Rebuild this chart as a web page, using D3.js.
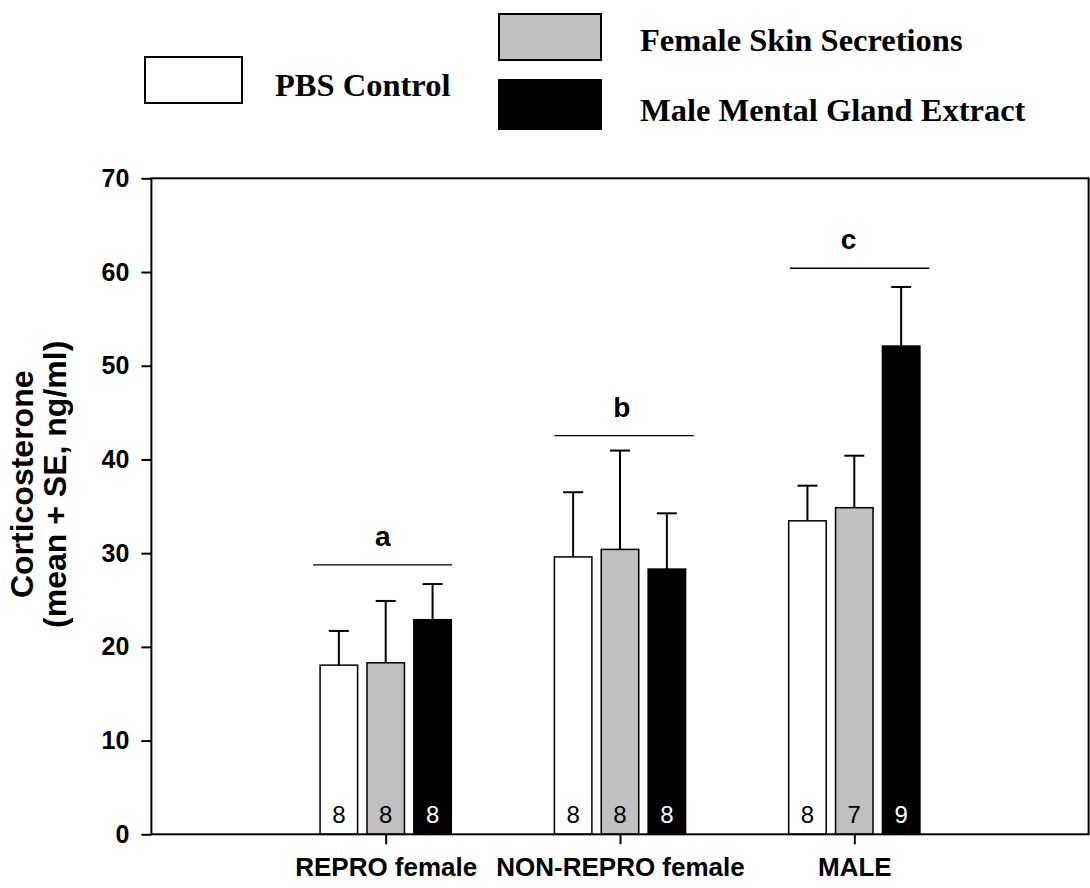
<!DOCTYPE html>
<html>
<head>
<meta charset="utf-8">
<script src="https://cdn.jsdelivr.net/npm/d3@7/dist/d3.min.js"></script>
<style>
  html, body { margin: 0; padding: 0; background: #fff; }
  svg { display: block; }
</style>
</head>
<body>
<svg id="chart" width="1090" height="888"></svg>
<script>
// Corticosterone response by group and treatment
const groups = ["REPRO female", "NON-REPRO female", "MALE"];
const treatments = ["PBS Control", "Female Skin Secretions", "Male Mental Gland Extract"];
const fills = ["#ffffff", "#c0c0c0", "#000000"];

// mean values per group, one array per treatment
const pbsMean    = [18.05, 29.6, 33.45];
const femaleMean = [18.3, 30.4, 34.85];
const maleMean   = [22.9, 28.3, 52.1];

// upper error bar ends (mean + SE)
const pbsUpper    = [21.7, 36.5, 37.2];
const femaleUpper = [24.9, 40.95, 40.4];
const maleUpper   = [26.7, 34.25, 58.4];

// sample sizes
const pbsN    = [8, 8, 8];
const femaleN = [8, 8, 7];
const maleN   = [8, 8, 9];

// significance groupings (bracket level, extent and letter position on the x axis)
const sigLetters = ["a", "b", "c"];
const sigLevel   = [28.75, 42.55, 60.4];
const sigStart   = [0.69, 1.72, 2.725];
const sigEnd     = [1.283, 2.315, 3.32];
const sigLabelX  = [0.988, 2.008, 2.975];

const yTicks = [0, 10, 20, 30, 40, 50, 60, 70];

const means  = [pbsMean, femaleMean, maleMean];
const uppers = [pbsUpper, femaleUpper, maleUpper];
const ns     = [pbsN, femaleN, maleN];

const svg = d3.select("#chart");

const x = d3.scaleLinear().domain([0, 4]).range([151.4, 1088.6]);
const y = d3.scaleLinear().domain([0, 70]).range([834.3, 178.3]);

const barOffset = 0.2;   // distance between bar centres, in group units
const barWidth = 0.16;   // bar width, in group units

const bars = [];
groups.forEach((g, gi) => {
  treatments.forEach((t, ti) => {
    bars.push({
      group: gi, treat: ti,
      cx: gi + 1 + (ti - 1) * barOffset,
      mean: means[ti][gi], upper: uppers[ti][gi], n: ns[ti][gi]
    });
  });
});

// error bars (upper only)
const capHalf = 10;
const eb = svg.append("g").attr("stroke", "#000").attr("stroke-width", 2);
eb.selectAll("line.stem").data(bars).join("line")
  .attr("x1", d => x(d.cx)).attr("x2", d => x(d.cx))
  .attr("y1", d => y(d.mean)).attr("y2", d => y(d.upper));
eb.selectAll("line.cap").data(bars).join("line")
  .attr("x1", d => x(d.cx) - capHalf).attr("x2", d => x(d.cx) + capHalf)
  .attr("y1", d => y(d.upper)).attr("y2", d => y(d.upper));

// bars
svg.append("g").selectAll("rect").data(bars).join("rect")
  .attr("x", d => x(d.cx - barWidth / 2))
  .attr("width", d => x(d.cx + barWidth / 2) - x(d.cx - barWidth / 2))
  .attr("y", d => y(d.mean))
  .attr("height", d => y(0) - y(d.mean))
  .attr("fill", d => fills[d.treat])
  .attr("stroke", "#000")
  .attr("stroke-width", 1.5);

// sample sizes inside bars
svg.append("g").selectAll("text").data(bars).join("text")
  .attr("x", d => x(d.cx))
  .attr("y", 823)
  .attr("text-anchor", "middle")
  .attr("font-family", "Arial, 'Liberation Sans', sans-serif")
  .attr("font-size", 24)
  .attr("fill", d => d.treat === 2 ? "#fff" : "#000")
  .text(d => d.n);

// significance lines and letters
const sig = svg.append("g");
sig.selectAll("line").data(sigLetters).join("line")
  .attr("x1", (d, i) => x(sigStart[i])).attr("x2", (d, i) => x(sigEnd[i]))
  .attr("y1", (d, i) => y(sigLevel[i])).attr("y2", (d, i) => y(sigLevel[i]))
  .attr("stroke", "#000").attr("stroke-width", 1.3);
sig.selectAll("text").data(sigLetters).join("text")
  .attr("x", (d, i) => x(sigLabelX[i]))
  .attr("y", (d, i) => y(sigLevel[i]) - 19)
  .attr("text-anchor", "middle")
  .attr("font-family", "Arial, 'Liberation Sans', sans-serif")
  .attr("font-weight", "bold")
  .attr("font-size", 28)
  .text(d => d);

// frame
svg.append("rect")
  .attr("x", x(0)).attr("y", y(70))
  .attr("width", x(4) - x(0)).attr("height", y(0) - y(70))
  .attr("fill", "none").attr("stroke", "#000").attr("stroke-width", 2);

// y axis
const yAxis = svg.append("g")
  .attr("transform", `translate(${x(0)},0)`)
  .call(d3.axisLeft(y).tickValues(yTicks).tickSize(10).tickPadding(12).tickFormat(d3.format("d")));
yAxis.select(".domain").remove();
yAxis.selectAll("line").attr("stroke", "#000").attr("stroke-width", 2);
yAxis.selectAll("text")
  .attr("font-family", "Arial, 'Liberation Sans', sans-serif")
  .attr("font-weight", "bold").attr("font-size", 25).attr("fill", "#000");

// x axis
const xAxis = svg.append("g")
  .attr("transform", `translate(0,${y(0)})`)
  .call(d3.axisBottom(x).tickValues([1, 2, 3]).tickSize(10).tickPadding(13)
    .tickFormat(d => groups[d - 1]));
xAxis.select(".domain").remove();
xAxis.selectAll("line").attr("stroke", "#000").attr("stroke-width", 2);
xAxis.selectAll("text")
  .attr("font-family", "Arial, 'Liberation Sans', sans-serif")
  .attr("font-weight", "bold").attr("font-size", 26).attr("fill", "#000");

// y axis title, two lines
const yTitle = svg.append("text")
  .attr("transform", `translate(42,${(y(0) + y(70)) / 2 - 22}) rotate(-90)`)
  .attr("text-anchor", "middle")
  .attr("font-family", "Arial, 'Liberation Sans', sans-serif")
  .attr("font-weight", "bold").attr("font-size", 32);
yTitle.append("tspan").attr("x", 0).attr("dy", "-0.28em").text("Corticosterone");
yTitle.append("tspan").attr("x", 0).attr("dy", "1.02em").text("(mean + SE, ng/ml)");

// legend
const legendItems = [
  { box: [145, 57, 97, 46], label: [275, 96] },
  { box: [499, 14, 102, 46], label: [640, 51] },
  { box: [499, 80, 102, 49], label: [640, 121] }
];
const legend = svg.append("g");
legend.selectAll("rect").data(treatments).join("rect")
  .attr("x", (d, i) => legendItems[i].box[0])
  .attr("y", (d, i) => legendItems[i].box[1])
  .attr("width", (d, i) => legendItems[i].box[2])
  .attr("height", (d, i) => legendItems[i].box[3])
  .attr("fill", (d, i) => fills[i])
  .attr("stroke", "#000").attr("stroke-width", 2);
legend.selectAll("text").data(treatments).join("text")
  .attr("x", (d, i) => legendItems[i].label[0])
  .attr("y", (d, i) => legendItems[i].label[1])
  .attr("font-family", "'Times New Roman', 'Liberation Serif', serif")
  .attr("font-weight", "bold").attr("font-size", 32.5)
  .text(d => d);
</script>
</body>
</html>
